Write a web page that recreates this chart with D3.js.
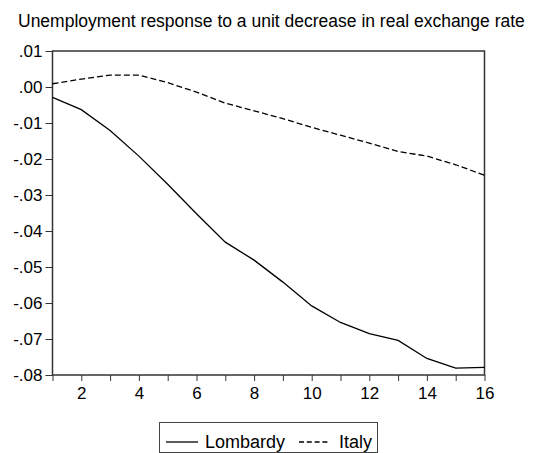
<!DOCTYPE html>
<html>
<head>
<meta charset="utf-8">
<script src="https://cdn.jsdelivr.net/npm/d3@7"></script>
<style>
  body { margin: 0; background: #fff; }
  svg text { font-family: "Liberation Sans", Arial, sans-serif; fill: #000; }
</style>
</head>
<body>
<svg id="chart" width="535" height="453"></svg>
<script>
// --- Daten ---
const periods = d3.range(1, 17);
const lombardy = [-0.0029, -0.0063, -0.0121, -0.0192, -0.0270, -0.0352, -0.0431, -0.0481,
                  -0.0542, -0.0608, -0.0654, -0.0685, -0.0704, -0.0754, -0.0781, -0.0779];
const italy = [0.0009, 0.0022, 0.0033, 0.0033, 0.0012, -0.0014, -0.0045, -0.0066,
               -0.0088, -0.0112, -0.0134, -0.0156, -0.0179, -0.0192, -0.0216, -0.0245];
const yTicks = [0.01, 0.00, -0.01, -0.02, -0.03, -0.04, -0.05, -0.06, -0.07, -0.08];
const xLabels = [2, 4, 6, 8, 10, 12, 14, 16];
const title = 'Unemployment response to a unit decrease in real exchange rate';

// --- Layout ---
const plot = { left: 52.5, right: 484.5, top: 51, bottom: 375 };
const svg = d3.select('#chart');

const x = d3.scaleLinear().domain([1, 16]).range([plot.left, plot.right]);
const y = d3.scaleLinear().domain([-0.08, 0.01]).range([plot.bottom, plot.top]);

// ".01", ".00", "-.01" ... (normales Minus, keine fuehrende Null)
const fmt = v => v.toFixed(2).replace(/^(-?)0\./, '$1.');

// Titel
svg.append('text')
  .attr('x', 18).attr('y', 27)
  .attr('font-size', 17.5)
  .text(title);

// Y-Achse
const yAxis = d3.axisLeft(y).tickValues(yTicks).tickSize(7).tickPadding(3).tickFormat(fmt);
svg.append('g')
  .attr('transform', `translate(${plot.left},0)`)
  .call(yAxis)
  .call(g => g.select('.domain').remove())
  .call(g => g.selectAll('line').attr('stroke', '#333'))
  .call(g => g.selectAll('text').attr('font-size', 17).attr('font-family', null));

// X-Achse
const xAxis = d3.axisBottom(x).tickValues(periods).tickSize(6).tickPadding(6)
  .tickFormat(d => xLabels.includes(d) ? d : '');
svg.append('g')
  .attr('transform', `translate(0,${plot.bottom})`)
  .call(xAxis)
  .call(g => g.select('.domain').remove())
  .call(g => g.selectAll('line').attr('stroke', '#333'))
  .call(g => g.selectAll('text').attr('font-size', 17).attr('font-family', null));

// Rahmen
svg.append('rect')
  .attr('x', plot.left).attr('y', plot.top)
  .attr('width', plot.right - plot.left).attr('height', plot.bottom - plot.top)
  .attr('fill', 'none').attr('stroke', '#333').attr('stroke-width', 1.5);

// Linien
const line = d3.line().x((d, i) => x(periods[i])).y(d => y(d));
svg.append('path').datum(italy)
  .attr('d', line).attr('fill', 'none')
  .attr('stroke', '#000').attr('stroke-width', 1.3).attr('stroke-dasharray', '6,3');
svg.append('path').datum(lombardy)
  .attr('d', line).attr('fill', 'none')
  .attr('stroke', '#000').attr('stroke-width', 1.3);

// Legende
const legend = svg.append('g');
legend.append('rect')
  .attr('x', 159.5).attr('y', 422.5).attr('width', 218).attr('height', 30)
  .attr('fill', 'none').attr('stroke', '#444').attr('stroke-width', 1);
legend.append('line')
  .attr('x1', 166).attr('x2', 198).attr('y1', 442).attr('y2', 442)
  .attr('stroke', '#000').attr('stroke-width', 1.3);
legend.append('text').attr('x', 205).attr('y', 448).attr('font-size', 18).text('Lombardy');
legend.append('line')
  .attr('x1', 299).attr('x2', 328).attr('y1', 442).attr('y2', 442)
  .attr('stroke', '#000').attr('stroke-width', 1.3).attr('stroke-dasharray', '5,2.8');
legend.append('text').attr('x', 339).attr('y', 448).attr('font-size', 18).text('Italy');
</script>
</body>
</html>
